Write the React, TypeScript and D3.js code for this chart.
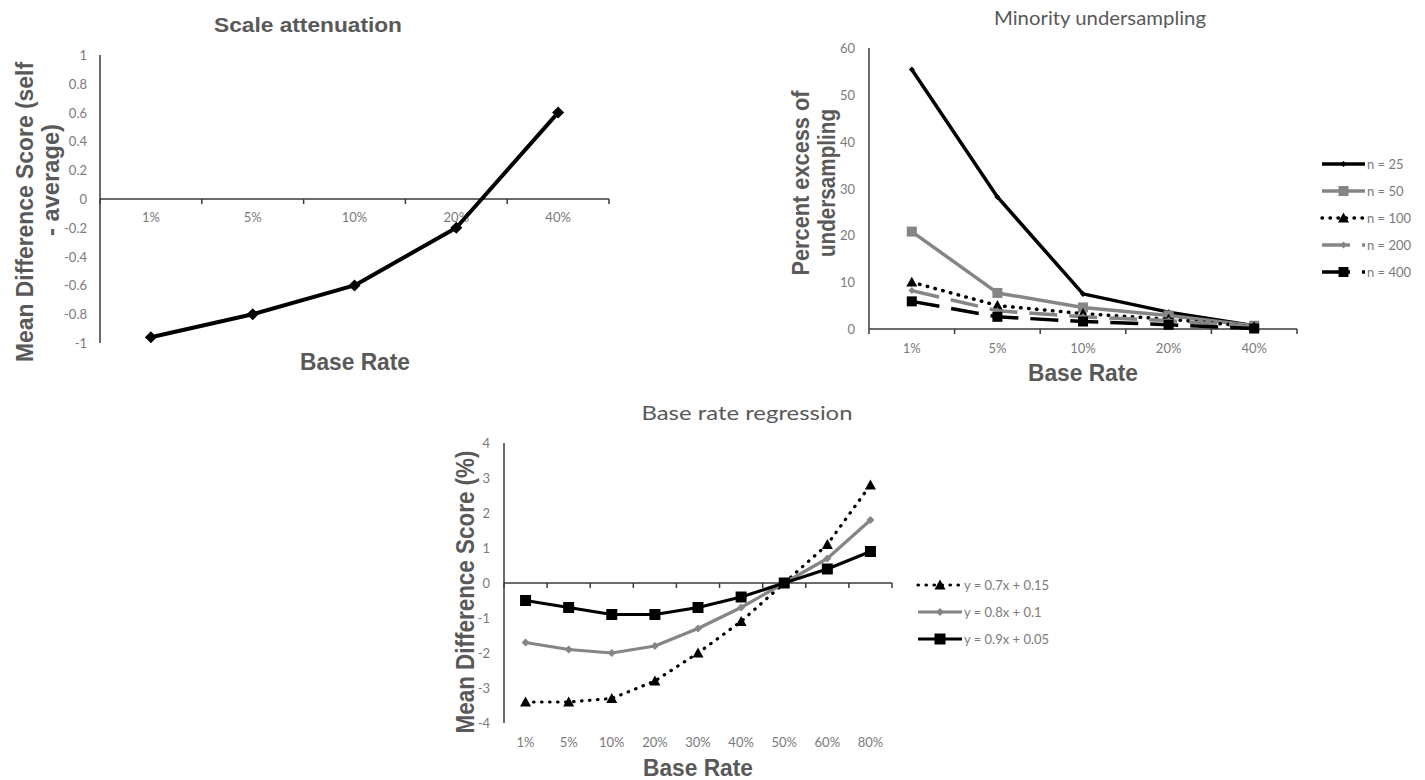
import React from "react";
import * as d3 from "d3";

// ---------- Data ----------
const saCats = ["1%", "5%", "10%", "20%", "40%"];
const saValues = [-0.96, -0.8, -0.6, -0.2, 0.6];
const saTicks = [1, 0.8, 0.6, 0.4, 0.2, 0, -0.2, -0.4, -0.6, -0.8, -1];

const muCats = ["1%", "5%", "10%", "20%", "40%"];
const muN25 = [55.4, 28.2, 7.5, 3.6, 0.7];
const muN50 = [20.8, 7.7, 4.6, 2.9, 0.7];
const muN100 = [10.0, 5.0, 3.3, 2.1, 0.5];
const muN200 = [8.2, 3.9, 2.6, 1.8, 0.5];
const muN400 = [5.9, 2.6, 1.6, 0.9, 0.1];
const muLabels = ["n = 25", "n = 50", "n = 100", "n = 200", "n = 400"];
const muTicks = [0, 10, 20, 30, 40, 50, 60];

const brCats = ["1%", "5%", "10%", "20%", "30%", "40%", "50%", "60%", "80%"];
const brA = [-3.4, -3.4, -3.3, -2.8, -2.0, -1.1, 0, 1.1, 2.8];
const brB = [-1.7, -1.9, -2.0, -1.8, -1.3, -0.7, 0, 0.7, 1.8];
const brC = [-0.5, -0.7, -0.9, -0.9, -0.7, -0.4, 0, 0.4, 0.9];
const brLabels = ["y = 0.7x + 0.15", "y = 0.8x + 0.1", "y = 0.9x + 0.05"];
const brTicks = [4, 3, 2, 1, 0, -1, -2, -3, -4];

// ---------- Styles ----------
const TICK_FONT = "Lato, 'Open Sans', sans-serif";
const BOLD_FONT = "'Liberation Sans', Arial, sans-serif";
const TITLE_COL = "#595959";
const TICK_COL = "#7a7a7a";
const AXIS_COL = "#3a3a3a";
const GRAY = "#858585";

type Shape = "diamond" | "square" | "triangle" | "none";

function markerPath(shape: Shape, r: number): string {
  if (shape === "diamond") return `M0,${-r}L${r},0L0,${r}L${-r},0Z`;
  if (shape === "square") return `M${-r},${-r}L${r},${-r}L${r},${r}L${-r},${r}Z`;
  if (shape === "triangle") return `M0,${-r}L${r},${r * 0.8}L${-r},${r * 0.8}Z`;
  return "";
}

interface SeriesStyle {
  values: number[];
  color: string;
  width: number;
  dash?: string;
  cap?: "round" | "butt";
  shape: Shape;
  r: number;
}

function Series({ s, x, y, cats }: { s: SeriesStyle; x: d3.ScaleBand<string>; y: d3.ScaleLinear<number, number>; cats: string[] }) {
  const cx = (i: number) => (x(cats[i]) as number) + x.bandwidth() / 2;
  const line = d3
    .line<number>()
    .x((_, i) => cx(i))
    .y((v) => y(v));
  return (
    <g>
      <path
        d={line(s.values) || ""}
        fill="none"
        stroke={s.color}
        strokeWidth={s.width}
        strokeDasharray={s.dash}
        strokeLinecap={s.cap || "butt"}
        strokeLinejoin="round"
      />
      {s.shape !== "none" &&
        s.values.map((v, i) => (
          <path key={i} d={markerPath(s.shape, s.r)} transform={`translate(${cx(i)},${y(v)})`} fill={s.color} />
        ))}
    </g>
  );
}

function LegendItem({ s, x0, x1, y, label }: { s: SeriesStyle; x0: number; x1: number; y: number; label: string }) {
  const mid = (x0 + x1) / 2;
  return (
    <g>
      <line x1={x0} x2={x1} y1={y} y2={y} stroke={s.color} strokeWidth={s.width} strokeDasharray={s.dash} strokeLinecap={s.cap || "butt"} />
      {s.shape !== "none" && <path d={markerPath(s.shape, s.r)} transform={`translate(${mid},${y})`} fill={s.color} />}
      <text x={x1 + 2} y={y} dominantBaseline="central" fontFamily={TICK_FONT} fontSize={13} fill={TICK_COL}>
        {label}
      </text>
    </g>
  );
}

function XAxis({ x, yPos, labelY, cats }: { x: d3.ScaleBand<string>; yPos: number; labelY: number; cats: string[] }) {
  const [r0, r1] = x.range();
  const bounds = cats.map((c) => x(c) as number).concat([r1]);
  return (
    <g>
      <line x1={r0} x2={r1} y1={yPos} y2={yPos} stroke={AXIS_COL} strokeWidth={1.5} />
      {bounds.map((b, i) => (
        <line key={i} x1={b} x2={b} y1={yPos} y2={yPos + 5} stroke={AXIS_COL} strokeWidth={1.5} />
      ))}
      {cats.map((c) => (
        <text
          key={c}
          x={(x(c) as number) + x.bandwidth() / 2}
          y={labelY}
          textAnchor="middle"
          dominantBaseline="central"
          fontFamily={TICK_FONT}
          fontSize={13}
          fill={TICK_COL}
        >
          {c}
        </text>
      ))}
    </g>
  );
}

function YAxis({ y, xPos, ticks, labelRight, fmt }: { y: d3.ScaleLinear<number, number>; xPos: number; ticks: number[]; labelRight: number; fmt: (v: number) => string }) {
  const [d0, d1] = y.range();
  return (
    <g>
      <line x1={xPos} x2={xPos} y1={d0} y2={d1} stroke={AXIS_COL} strokeWidth={1.5} />
      {ticks.map((t) => (
        <text
          key={t}
          x={labelRight}
          y={y(t)}
          textAnchor="end"
          dominantBaseline="central"
          fontFamily={TICK_FONT}
          fontSize={13}
          fill={TICK_COL}
        >
          {fmt(t)}
        </text>
      ))}
    </g>
  );
}

function FitText({ x, y, len, size, bold, rotate, children, family }: any) {
  return (
    <text
      transform={`translate(${x},${y})${rotate ? " rotate(-90)" : ""}`}
      textAnchor="middle"
      dominantBaseline="central"
      fontFamily={family || (bold ? BOLD_FONT : TICK_FONT)}
      fontWeight={bold ? "bold" : "normal"}
      fontSize={size}
      fill={TITLE_COL}
      textLength={len}
      lengthAdjust="spacingAndGlyphs"
    >
      {children}
    </text>
  );
}

const fmtNum = (v: number) => (v === 0 ? "0" : String(+v.toFixed(1)));

export default function App() {
  // ----- Scale attenuation -----
  const saX = d3.scaleBand<string>().domain(saCats).range([100, 609]).padding(0);
  const saY = d3.scaleLinear().domain([-1, 1]).range([343, 55]);
  const saSeries: SeriesStyle = { values: saValues, color: "#000", width: 4, shape: "diamond", r: 6 };

  // ----- Minority undersampling -----
  const muX = d3.scaleBand<string>().domain(muCats).range([869, 1297]).padding(0);
  const muY = d3.scaleLinear().domain([0, 60]).range([329, 48]);
  const muSeries: SeriesStyle[] = [
    { values: muN25, color: "#000", width: 3.5, shape: "diamond", r: 3 },
    { values: muN50, color: GRAY, width: 3.5, shape: "square", r: 5 },
    { values: muN100, color: "#000", width: 3.5, dash: "0.5 7.5", cap: "round", shape: "triangle", r: 5.5 },
    { values: muN200, color: GRAY, width: 3.5, dash: "28 12", shape: "diamond", r: 3.5 },
    { values: muN400, color: "#000", width: 3.5, dash: "28 12", shape: "square", r: 5 },
  ];
  const muLegendY = [164, 191, 218, 245, 272];

  // ----- Base rate regression -----
  const brX = d3.scaleBand<string>().domain(brCats).range([504, 892]).padding(0);
  const brY = d3.scaleLinear().domain([-4, 4]).range([723, 443]);
  const brSeries: SeriesStyle[] = [
    { values: brA, color: "#000", width: 3.2, dash: "0.5 7.5", cap: "round", shape: "triangle", r: 5.5 },
    { values: brB, color: GRAY, width: 3.2, shape: "diamond", r: 4 },
    { values: brC, color: "#000", width: 3.2, shape: "square", r: 5.5 },
  ];
  const brLegendY = [585, 612, 639];

  return (
    <svg width={1425} height={780} style={{ position: "absolute", left: 0, top: 0, background: "#fff" }}>
      <rect x={0} y={0} width={1425} height={780} fill="#fff" />

      {/* Scale attenuation */}
      <FitText x={308} y={24} len={188} size={21} bold>
        Scale attenuation
      </FitText>
      <YAxis y={saY} xPos={100} ticks={saTicks} labelRight={87} fmt={fmtNum} />
      <XAxis x={saX} yPos={saY(0)} labelY={217} cats={saCats} />
      <Series s={saSeries} x={saX} y={saY} cats={saCats} />
      <FitText x={24} y={212} len={300} size={24} bold rotate>
        Mean Difference Score (self
      </FitText>
      <FitText x={50} y={180} len={112} size={24} bold rotate>
        - average)
      </FitText>
      <FitText x={355} y={362} len={110} size={23} bold>
        Base Rate
      </FitText>

      {/* Minority undersampling */}
      <FitText x={1100} y={17} len={212} size={20}>
        Minority undersampling
      </FitText>
      <YAxis y={muY} xPos={869} ticks={muTicks} labelRight={855} fmt={(v) => String(v)} />
      <XAxis x={muX} yPos={muY(0)} labelY={348} cats={muCats} />
      {muSeries.map((s, i) => (
        <Series key={i} s={s} x={muX} y={muY} cats={muCats} />
      ))}
      <FitText x={800} y={183} len={185} size={24} bold rotate>
        Percent excess of
      </FitText>
      <FitText x={826} y={183} len={148} size={24} bold rotate>
        undersampling
      </FitText>
      <FitText x={1083} y={373} len={110} size={23} bold>
        Base Rate
      </FitText>
      {muSeries.map((s, i) => (
        <LegendItem key={i} s={s} x0={1322} x1={1365} y={muLegendY[i]} label={muLabels[i]} />
      ))}

      {/* Base rate regression */}
      <FitText x={747} y={412} len={211} size={20}>
        Base rate regression
      </FitText>
      <YAxis y={brY} xPos={504} ticks={brTicks} labelRight={490} fmt={(v) => String(v)} />
      <XAxis x={brX} yPos={brY(0)} labelY={742} cats={brCats} />
      {brSeries.map((s, i) => (
        <Series key={i} s={s} x={brX} y={brY} cats={brCats} />
      ))}
      <FitText x={465} y={592} len={283} size={25} bold rotate>
        Mean Difference Score (%)
      </FitText>
      <FitText x={698} y={768} len={110} size={23} bold>
        Base Rate
      </FitText>
      {brSeries.map((s, i) => (
        <LegendItem key={i} s={s} x0={918} x1={962} y={brLegendY[i]} label={brLabels[i]} />
      ))}
    </svg>
  );
}
